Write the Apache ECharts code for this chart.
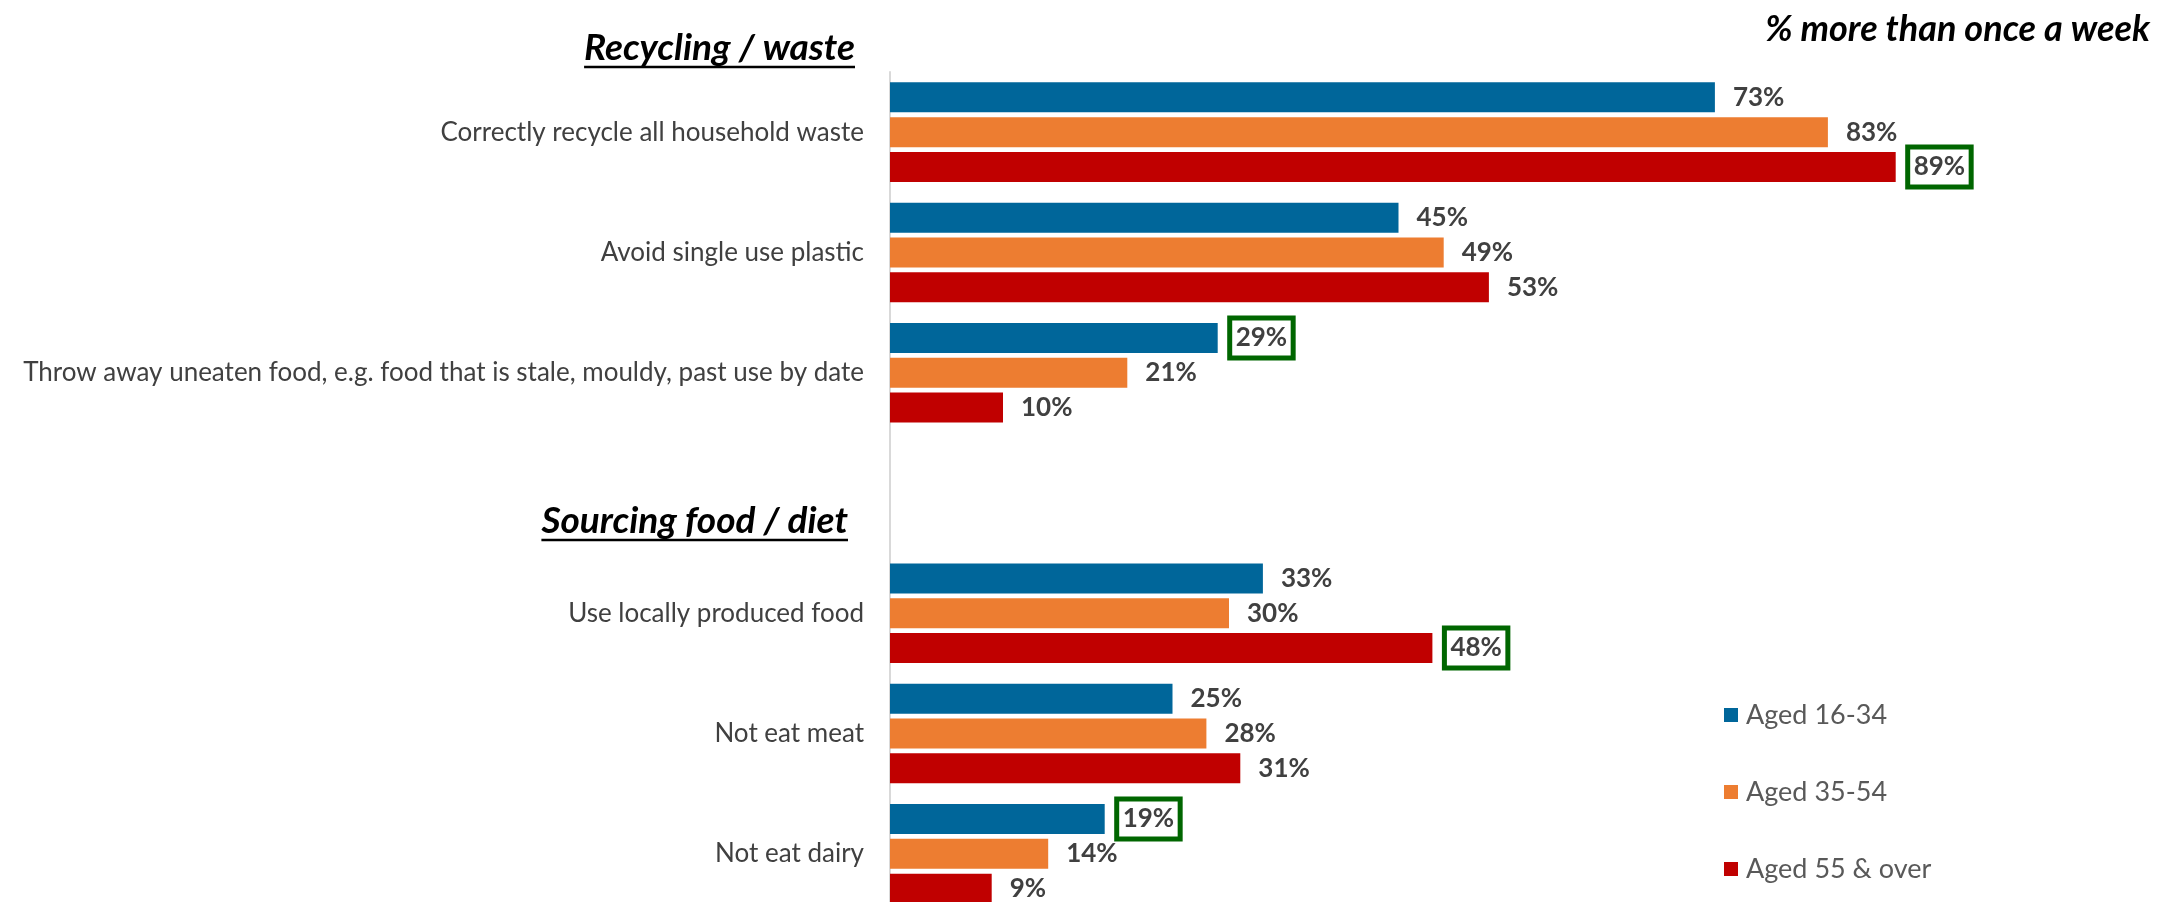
<!DOCTYPE html>
<html>
<head>
<meta charset="utf-8">
<style>
  html, body { margin: 0; padding: 0; background: #ffffff; }
  #chart { width: 2177px; height: 902px; }
</style>
<script src="https://cdn.jsdelivr.net/npm/echarts@6/dist/echarts.min.js"></script>
</head>
<body>
<div id="chart"></div>
<script>
// Behaviours done more than once a week, by age group (%)
const categories = [
  'Correctly recycle all household waste',
  'Avoid single use plastic',
  'Throw away uneaten food, e.g. food that is stale, mouldy, past use by date',
  '',
  'Use locally produced food',
  'Not eat meat',
  'Not eat dairy'
];
const seriesNames = ['Aged 16-34', 'Aged 35-54', 'Aged 55 & over'];
const aged16to34 = [73, 45, 29, null, 33, 25, 19];
const aged35to54 = [83, 49, 21, null, 30, 28, 14];
const aged55plus = [89, 53, 10, null, 48, 31, 9];
// [series index, category index] of the values called out with a box
const highlighted = [[2, 0], [0, 2], [2, 4], [0, 6]];
const sectionHeadings = ['Recycling / waste', 'Sourcing food / diet'];
const unitNote = '% more than once a week';

const FONT = 'Lato';
const colors = ['#00669a', '#ed7d31', '#c00000'];
const seriesValues = [aged16to34, aged35to54, aged55plus];

const chart = echarts.init(document.getElementById('chart'), null, { renderer: 'canvas' });

const baseLabel = {
  show: true,
  position: 'right',
  distance: 12,
  padding: [7, 6],
  formatter: '{c}%',
  color: '#404040',
  fontFamily: FONT,
  fontWeight: 'bold',
  fontSize: 26
};

const series = seriesValues.map((vals, si) => ({
  name: seriesNames[si],
  type: 'bar',
  barWidth: 30,
  barGap: '16%',
  barCategoryGap: '16%',
  itemStyle: { color: colors[si] },
  label: baseLabel,
  data: vals.map((v, ci) => {
    const boxed = highlighted.some(h => h[0] === si && h[1] === ci);
    if (!boxed) return v;
    return {
      value: v,
      label: { borderColor: '#006600', borderWidth: 5 }
    };
  })
}));

// measure heading text so the underline spans it exactly
function textWidth(text, font) {
  const ctx = document.createElement('canvas').getContext('2d');
  ctx.font = font;
  return ctx.measureText(text).width;
}
const headFont = 'italic bold 37px ' + FONT;
function heading(text, right, midY, lineY) {
  const w = textWidth(text, headFont);
  return [
    {
      type: 'text',
      style: {
        text: text, x: right, y: midY,
        align: 'right', verticalAlign: 'middle',
        font: headFont, fill: '#000000'
      }
    },
    {
      type: 'line',
      shape: { x1: right - w, y1: lineY, x2: right, y2: lineY },
      style: { stroke: '#000000', lineWidth: 2.5 }
    }
  ];
}

chart.setOption({
  backgroundColor: '#ffffff',
  animation: false,
  grid: {
    left: 890, width: 1130, top: 72, height: 842,
    containLabel: false, outerBoundsMode: 'none'
  },
  xAxis: {
    type: 'value', min: 0, max: 100, show: false
  },
  yAxis: {
    type: 'category',
    inverse: true,
    data: categories,
    axisLine: { show: true, lineStyle: { color: '#d9d9d9', width: 2 } },
    axisTick: { show: false },
    splitLine: { show: false },
    axisLabel: {
      margin: 26,
      color: '#404040',
      fontFamily: FONT,
      fontSize: 26
    }
  },
  legend: {
    orient: 'vertical',
    left: 1719,
    top: 695,
    icon: 'rect',
    itemWidth: 14,
    itemHeight: 14,
    itemGap: 47,
    data: seriesNames,
    textStyle: { color: '#595959', fontFamily: FONT, fontSize: 27, lineHeight: 30, padding: [0, 0, 0, 3] }
  },
  graphic: [
    ...heading(sectionHeadings[0], 855, 48, 67),
    ...heading(sectionHeadings[1], 848, 521, 540),
    {
      type: 'text',
      style: {
        text: unitNote, x: 2150, y: 29,
        align: 'right', verticalAlign: 'middle',
        font: 'italic bold 36px ' + FONT, fill: '#000000'
      }
    }
  ],
  series: series
});
</script>
</body>
</html>
